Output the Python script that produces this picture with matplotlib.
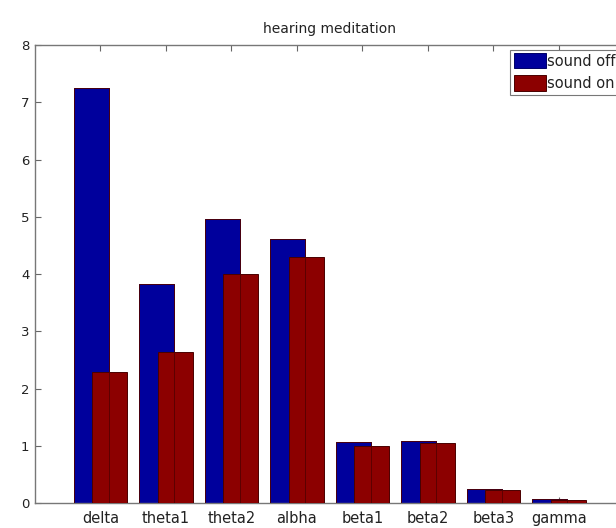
# -*- coding: utf-8 -*-
import numpy as np
import matplotlib
matplotlib.use('Agg')
import matplotlib.pyplot as plt

plt.rcParams['font.family'] = ['DejaVu Sans']

bands = ['delta', 'theta1', 'theta2', 'alpha', 'beta1', 'beta2', 'beta3', 'gamma']
band_labels = ['delta', 'theta1', 'theta2', 'albha', 'beta1', 'beta2', 'beta3', 'gamma']
sound_off = [7.25, 3.83, 4.97, 4.61, 1.06, 1.09, 0.25, 0.07]
sound_on = [2.28, 2.64, 4.00, 4.29, 1.00, 1.05, 0.22, 0.055]

blue = '#00009c'
red = '#8c0000'

fig = plt.figure(figsize=(6.16, 5.28), dpi=100)
ax = fig.add_axes([0.0568, 0.0473, 0.957, 0.8674])

x = np.arange(1, len(bands) + 1)
w = 0.53
off = 0.14
ax.bar(x - off, sound_off, w, color=blue, edgecolor='#000066', linewidth=0.7, label='sound off', zorder=2)
ax.bar(x + off, sound_on, w, color=red, edgecolor='#4a0000', linewidth=0.7, label='sound on', zorder=3)
# edge of the blue bars shows through the red ones
ax.bar(x - off, sound_off, w, fill=False, edgecolor='#550000', linewidth=0.6, zorder=4)

ax.set_xlim(0, 9)
ax.set_ylim(0, 8)
ax.set_xticks(x)
ax.set_xticklabels(band_labels, fontsize=10.5, color='#222222')
ax.set_yticks(range(0, 9))
ax.tick_params(axis='y', labelsize=9.5, labelcolor='#222222', pad=4)
ax.tick_params(axis='x', pad=6)
ax.tick_params(direction='in', length=4, width=0.8, color='#666666', top=True, right=True)
for s in ax.spines.values():
    s.set_color('#777777')
    s.set_linewidth(1.0)

ax.set_title('hearing meditation', fontsize=10, pad=9, color='#222222')

leg = ax.legend(loc='upper left', bbox_to_anchor=(0.806, 0.99), fontsize=10.5,
                fancybox=False, edgecolor='#777777', framealpha=1,
                handlelength=2.2, handleheight=1.23, handletextpad=0.1,
                borderpad=0.25, labelspacing=0.45, borderaxespad=0)
leg.get_frame().set_linewidth(0.8)
for t in leg.get_texts():
    t.set_color('#222222')

fig.savefig('out.png', dpi=100)
